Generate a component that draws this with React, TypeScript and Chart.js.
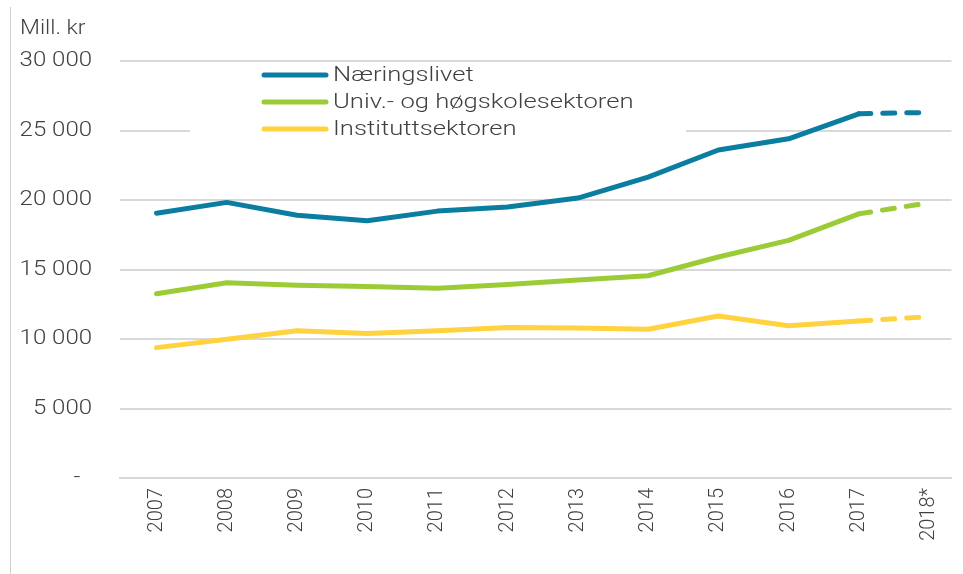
import React, { useEffect, useRef } from "react";
import { Chart, registerables } from "chart.js";

Chart.register(...registerables);

const years = ["2007", "2008", "2009", "2010", "2011", "2012", "2013", "2014", "2015", "2016", "2017", "2018*"];
const naeringslivet = [19050, 19830, 18900, 18500, 19200, 19500, 20140, 21650, 23600, 24400, 26200, 26300];
const univHogskole = [13250, 14050, 13870, 13780, 13650, 13920, 14250, 14550, 15900, 17100, 19000, 19800];
const institutt = [9380, 9980, 10600, 10400, 10600, 10830, 10800, 10700, 11650, 10950, 11300, 11600];
const seriesNames = ["Næringslivet", "Univ.- og høgskolesektoren", "Instituttsektoren"];
const seriesColors = ["#0B7DA1", "#9BCC35", "#FFD23F"];
const yTicks = [0, 5000, 10000, 15000, 20000, 25000, 30000];
const unitLabel = "Mill. kr";

const FONT = "Roboto, 'Open Sans', sans-serif";
const TEXT = "#404040";

function fmt(v: number) {
  return v === 0 ? "-  " : String(v).replace(/\B(?=(\d{3})+(?!\d))/g, " ");
}

function stretchedText(
  ctx: CanvasRenderingContext2D,
  text: string,
  x: number,
  y: number,
  sx: number,
  align: CanvasTextAlign,
  baseline: CanvasTextBaseline
) {
  ctx.save();
  ctx.translate(x, y);
  ctx.scale(sx, 1);
  ctx.textAlign = align;
  ctx.textBaseline = baseline;
  ctx.fillText(text, 0, 0);
  ctx.restore();
}

export default function App() {
  const ref = useRef<HTMLCanvasElement | null>(null);
  useEffect(() => {
    const canvas = ref.current!;
    const series = [naeringslivet, univHogskole, institutt];
    const overlay = {
      id: "overlay",
      afterDraw(chart: any) {
        const ctx = chart.ctx as CanvasRenderingContext2D;
        ctx.save();
        // left panel border
        ctx.fillStyle = "#d0d0d0";
        ctx.fillRect(10, 7, 1, 567);
        // unit label
        ctx.fillStyle = TEXT;
        ctx.font = `300 20px ${FONT}`;
        stretchedText(ctx, unitLabel, 20, 34, 1.15, "left", "alphabetic");
        // y tick labels via the y scale
        const ys = chart.scales.y;
        ctx.font = `300 20px ${FONT}`;
        ys.ticks.forEach((t: any) => {
          const py = ys.getPixelForValue(t.value);
          stretchedText(ctx, fmt(t.value), 92, py, 1.2, "right", "middle");
        });
        // legend
        ctx.fillStyle = "#ffffff";
        ctx.fillRect(190, 64, 496, 82);
        const rows = [75, 102, 129];
        seriesNames.forEach((name, i) => {
          ctx.strokeStyle = seriesColors[i];
          ctx.lineWidth = 5;
          ctx.lineCap = "round";
          ctx.beginPath();
          ctx.moveTo(264, rows[i]);
          ctx.lineTo(326, rows[i]);
          ctx.stroke();
          ctx.fillStyle = TEXT;
          ctx.font = `300 21px ${FONT}`;
          stretchedText(ctx, name, 333, rows[i] + 1, 1.22, "left", "middle");
        });
        ctx.restore();
      },
    };
    const chart = new Chart(canvas, {
      type: "line",
      data: {
        datasets: series.map((vals, si) => ({
          label: seriesNames[si],
          data: vals.map((v, i) => ({ x: i, y: v })),
          borderColor: seriesColors[si],
          backgroundColor: seriesColors[si],
          borderWidth: 5,
          borderCapStyle: "round" as const,
          borderJoinStyle: "round" as const,
          pointRadius: 0,
          tension: 0,
          segment: {
            borderDash: (c: any) => (c.p1DataIndex === years.length - 1 ? [12, 12] : undefined),
          },
        })),
      },
      options: {
        animation: false,
        responsive: false,
        layout: { padding: { top: 61, right: 0, left: 0, bottom: 0 } },
        plugins: { legend: { display: false }, tooltip: { enabled: false } },
        scales: {
          x: {
            type: "linear",
            min: -0.52,
            max: 11.32,
            afterFit: (s: any) => {
              s.height = 96;
            },
            grid: { display: false, drawTicks: false },
            border: { display: true, color: "#d9d9d9", width: 2 },
            ticks: {
              stepSize: 1,
              includeBounds: false,
              autoSkip: false,
              minRotation: 90,
              maxRotation: 90,
              padding: 10,
              color: TEXT,
              font: { family: FONT, size: 20, weight: "300" as any },
              callback: (v: any) => (Number.isInteger(v) && years[v] !== undefined ? years[v] : ""),
            },
          },
          y: {
            min: 0,
            max: 30000,
            afterFit: (s: any) => {
              s.width = 120;
            },
            afterBuildTicks: (s: any) => {
              s.ticks = yTicks.map((v) => ({ value: v }));
            },
            grid: { color: "#d9d9d9", lineWidth: 2, drawTicks: false },
            border: { display: false },
            ticks: { display: false },
          },
        },
      },
      plugins: [overlay],
    });
    return () => chart.destroy();
  }, []);
  return (
    <div style={{ position: "fixed", left: 0, top: 0, width: 963, height: 574, background: "#fff" }}>
      <canvas ref={ref} width={963} height={574} style={{ display: "block", width: 963, height: 574 }} />
    </div>
  );
}
